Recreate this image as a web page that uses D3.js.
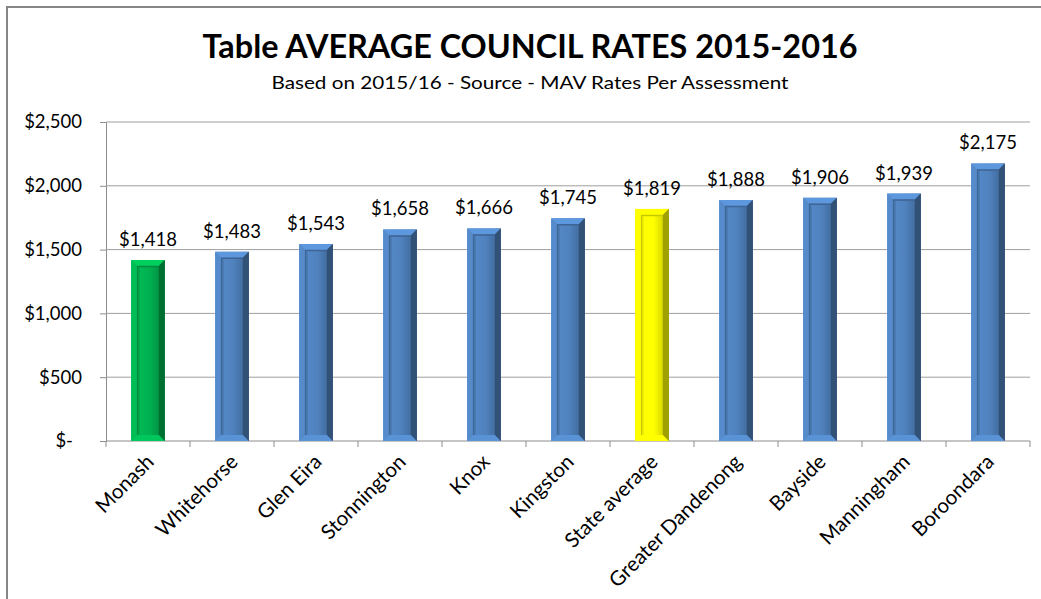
<!DOCTYPE html>
<html>
<head>
<meta charset="utf-8">
<script src="https://cdn.jsdelivr.net/npm/d3@7"></script>
<style>
  html, body { margin: 0; padding: 0; background: #fff; }
  svg { display: block; font-family: Lato, "Noto Sans", sans-serif; }
</style>
</head>
<body>
<svg id="chart" width="1041" height="599"></svg>
<script>
// Average council rates per assessment, 2015/16
const councils = ["Monash", "Whitehorse", "Glen Eira", "Stonnington", "Knox", "Kingston",
  "State average", "Greater Dandenong", "Bayside", "Manningham", "Boroondara"];
const rates = [1418, 1483, 1543, 1658, 1666, 1745, 1819, 1888, 1906, 1939, 2175];
const barColours = ["#00B050", "#4F81BD", "#4F81BD", "#4F81BD", "#4F81BD", "#4F81BD",
  "#FFFF00", "#4F81BD", "#4F81BD", "#4F81BD", "#4F81BD"];
const rateTicks = [0, 500, 1000, 1500, 2000, 2500];

const titleText = "Table AVERAGE COUNCIL RATES 2015-2016";
const subtitleText = "Based on 2015/16 - Source -  MAV Rates Per Assessment";

const svg = d3.select("#chart");
const plot = { left: 106, right: 1030, top: 122, bottom: 441 };

const x = d3.scaleBand().domain(councils).range([plot.left, plot.right]).paddingInner(0.6).paddingOuter(0.3);
const y = d3.scaleLinear().domain([0, 2500]).range([plot.bottom, plot.top]);

const money = d3.format("$,.0f");
const tickLabel = v => v === 0 ? "$-" : money(v);

// chart frame (left and top edges)
svg.append("path")
  .attr("d", "M7,599 V7 H1041")
  .attr("fill", "none").attr("stroke", "#868686").attr("stroke-width", 2);

// titles
svg.append("text").attr("x", 530).attr("y", 58)
  .attr("text-anchor", "middle").attr("font-size", 32).attr("font-weight", 700)
  .attr("fill", "#000").attr("textLength", 655).attr("lengthAdjust", "spacingAndGlyphs")
  .text(titleText);
svg.append("text").attr("x", 530).attr("y", 89)
  .attr("text-anchor", "middle").attr("font-size", 18)
  .attr("fill", "#000").attr("textLength", 517).attr("lengthAdjust", "spacingAndGlyphs")
  .text(subtitleText);

// y axis with gridlines
const yAxis = d3.axisLeft(y).tickValues(rateTicks).tickSize(6).tickFormat(tickLabel);
const gy = svg.append("g").attr("transform", `translate(${plot.left},0)`).call(yAxis);
gy.select(".domain").attr("stroke", "#8c8c8c");
gy.selectAll(".tick line").attr("stroke", "#8c8c8c");
gy.selectAll(".tick text")
  .attr("x", d => d === 0 ? -33 : -24)
  .attr("font-size", 18.5).attr("font-family", "Lato, sans-serif").attr("fill", "#000");

svg.append("g").selectAll("line").data(rateTicks.filter(d => d > 0)).join("line")
  .attr("x1", plot.left).attr("x2", plot.right)
  .attr("y1", d => y(d)).attr("y2", d => y(d))
  .attr("stroke", "#9e9e9e").attr("stroke-width", 1);

// x axis: baseline with ticks on band edges
const edges = councils.map(c => x(c) - x.step() * x.paddingInner() / 2).concat([plot.right]);
svg.append("line").attr("x1", plot.left).attr("x2", plot.right)
  .attr("y1", plot.bottom).attr("y2", plot.bottom).attr("stroke", "#8c8c8c");
svg.append("g").selectAll("line").data(edges).join("line")
  .attr("x1", d => d).attr("x2", d => d)
  .attr("y1", plot.bottom).attr("y2", plot.bottom + 6).attr("stroke", "#8c8c8c");

// bevelled bars
const defs = svg.append("defs");
const bevel = 6;
const bars = svg.append("g");
councils.forEach((c, i) => {
  const base = d3.color(barColours[i]);
  const gid = "body" + i;
  const g = defs.append("linearGradient").attr("id", gid).attr("x1", 0).attr("x2", 1).attr("y1", 0).attr("y2", 0);
  g.append("stop").attr("offset", 0).attr("stop-color", base.brighter(0.25));
  g.append("stop").attr("offset", 0.55).attr("stop-color", base);
  g.append("stop").attr("offset", 0.85).attr("stop-color", base.darker(0.5));
  g.append("stop").attr("offset", 1).attr("stop-color", base.darker(1.4));

  const x0 = x(c), w = x.bandwidth(), y0 = y(rates[i]), h = y(0) - y(rates[i]);
  const x1 = x0 + w, y1 = y0 + h, b = bevel;
  const bar = bars.append("g");
  bar.append("rect").attr("x", x0).attr("y", y0).attr("width", w).attr("height", h).attr("fill", `url(#${gid})`);
  // bevel faces
  bar.append("polygon").attr("points", `${x0},${y0} ${x1},${y0} ${x1 - b},${y0 + b} ${x0 + b},${y0 + b}`)
    .attr("fill", base.brighter(0.45));
  bar.append("polygon").attr("points", `${x0},${y0} ${x0 + b},${y0 + b} ${x0 + b},${y1 - b} ${x0},${y1}`)
    .attr("fill", base.brighter(0.2));
  bar.append("polygon").attr("points", `${x1},${y0} ${x1},${y1} ${x1 - b},${y1 - b} ${x1 - b},${y0 + b}`)
    .attr("fill", base.darker(1.3));
  bar.append("polygon").attr("points", `${x0},${y1} ${x0 + b},${y1 - b} ${x1 - b},${y1 - b} ${x1},${y1}`)
    .attr("fill", base.brighter(0.35));
  // inner shadow edge of the face
  bar.append("path").attr("d", `M${x0 + b + 0.5},${y1 - b} V${y0 + b + 0.5} H${x1 - b}`)
    .attr("fill", "none").attr("stroke", base.darker(0.7)).attr("stroke-width", 1.5);
  bar.append("path").attr("d", `M${x0 + b + 2},${y0 + b + 2} V${y1 - b}`)
    .attr("fill", "none").attr("stroke", base.darker(0.3)).attr("stroke-width", 1);
});

// value labels
svg.append("g").selectAll("text").data(councils).join("text")
  .attr("x", c => x(c) + x.bandwidth() / 2)
  .attr("y", (c, i) => y(rates[i]) - 14)
  .attr("text-anchor", "middle").attr("font-size", 18.5).attr("fill", "#000")
  .text((c, i) => money(rates[i]));

// category labels, rotated
svg.append("g").selectAll("text").data(councils).join("text")
  .attr("transform", c => `translate(${x(c) + x.bandwidth() / 2 + 2},${plot.bottom + 17}) rotate(-45)`)
  .attr("text-anchor", "end").attr("dy", "0.35em")
  .attr("font-size", 20.5).attr("fill", "#000")
  .text(c => c);
</script>
</body>
</html>
